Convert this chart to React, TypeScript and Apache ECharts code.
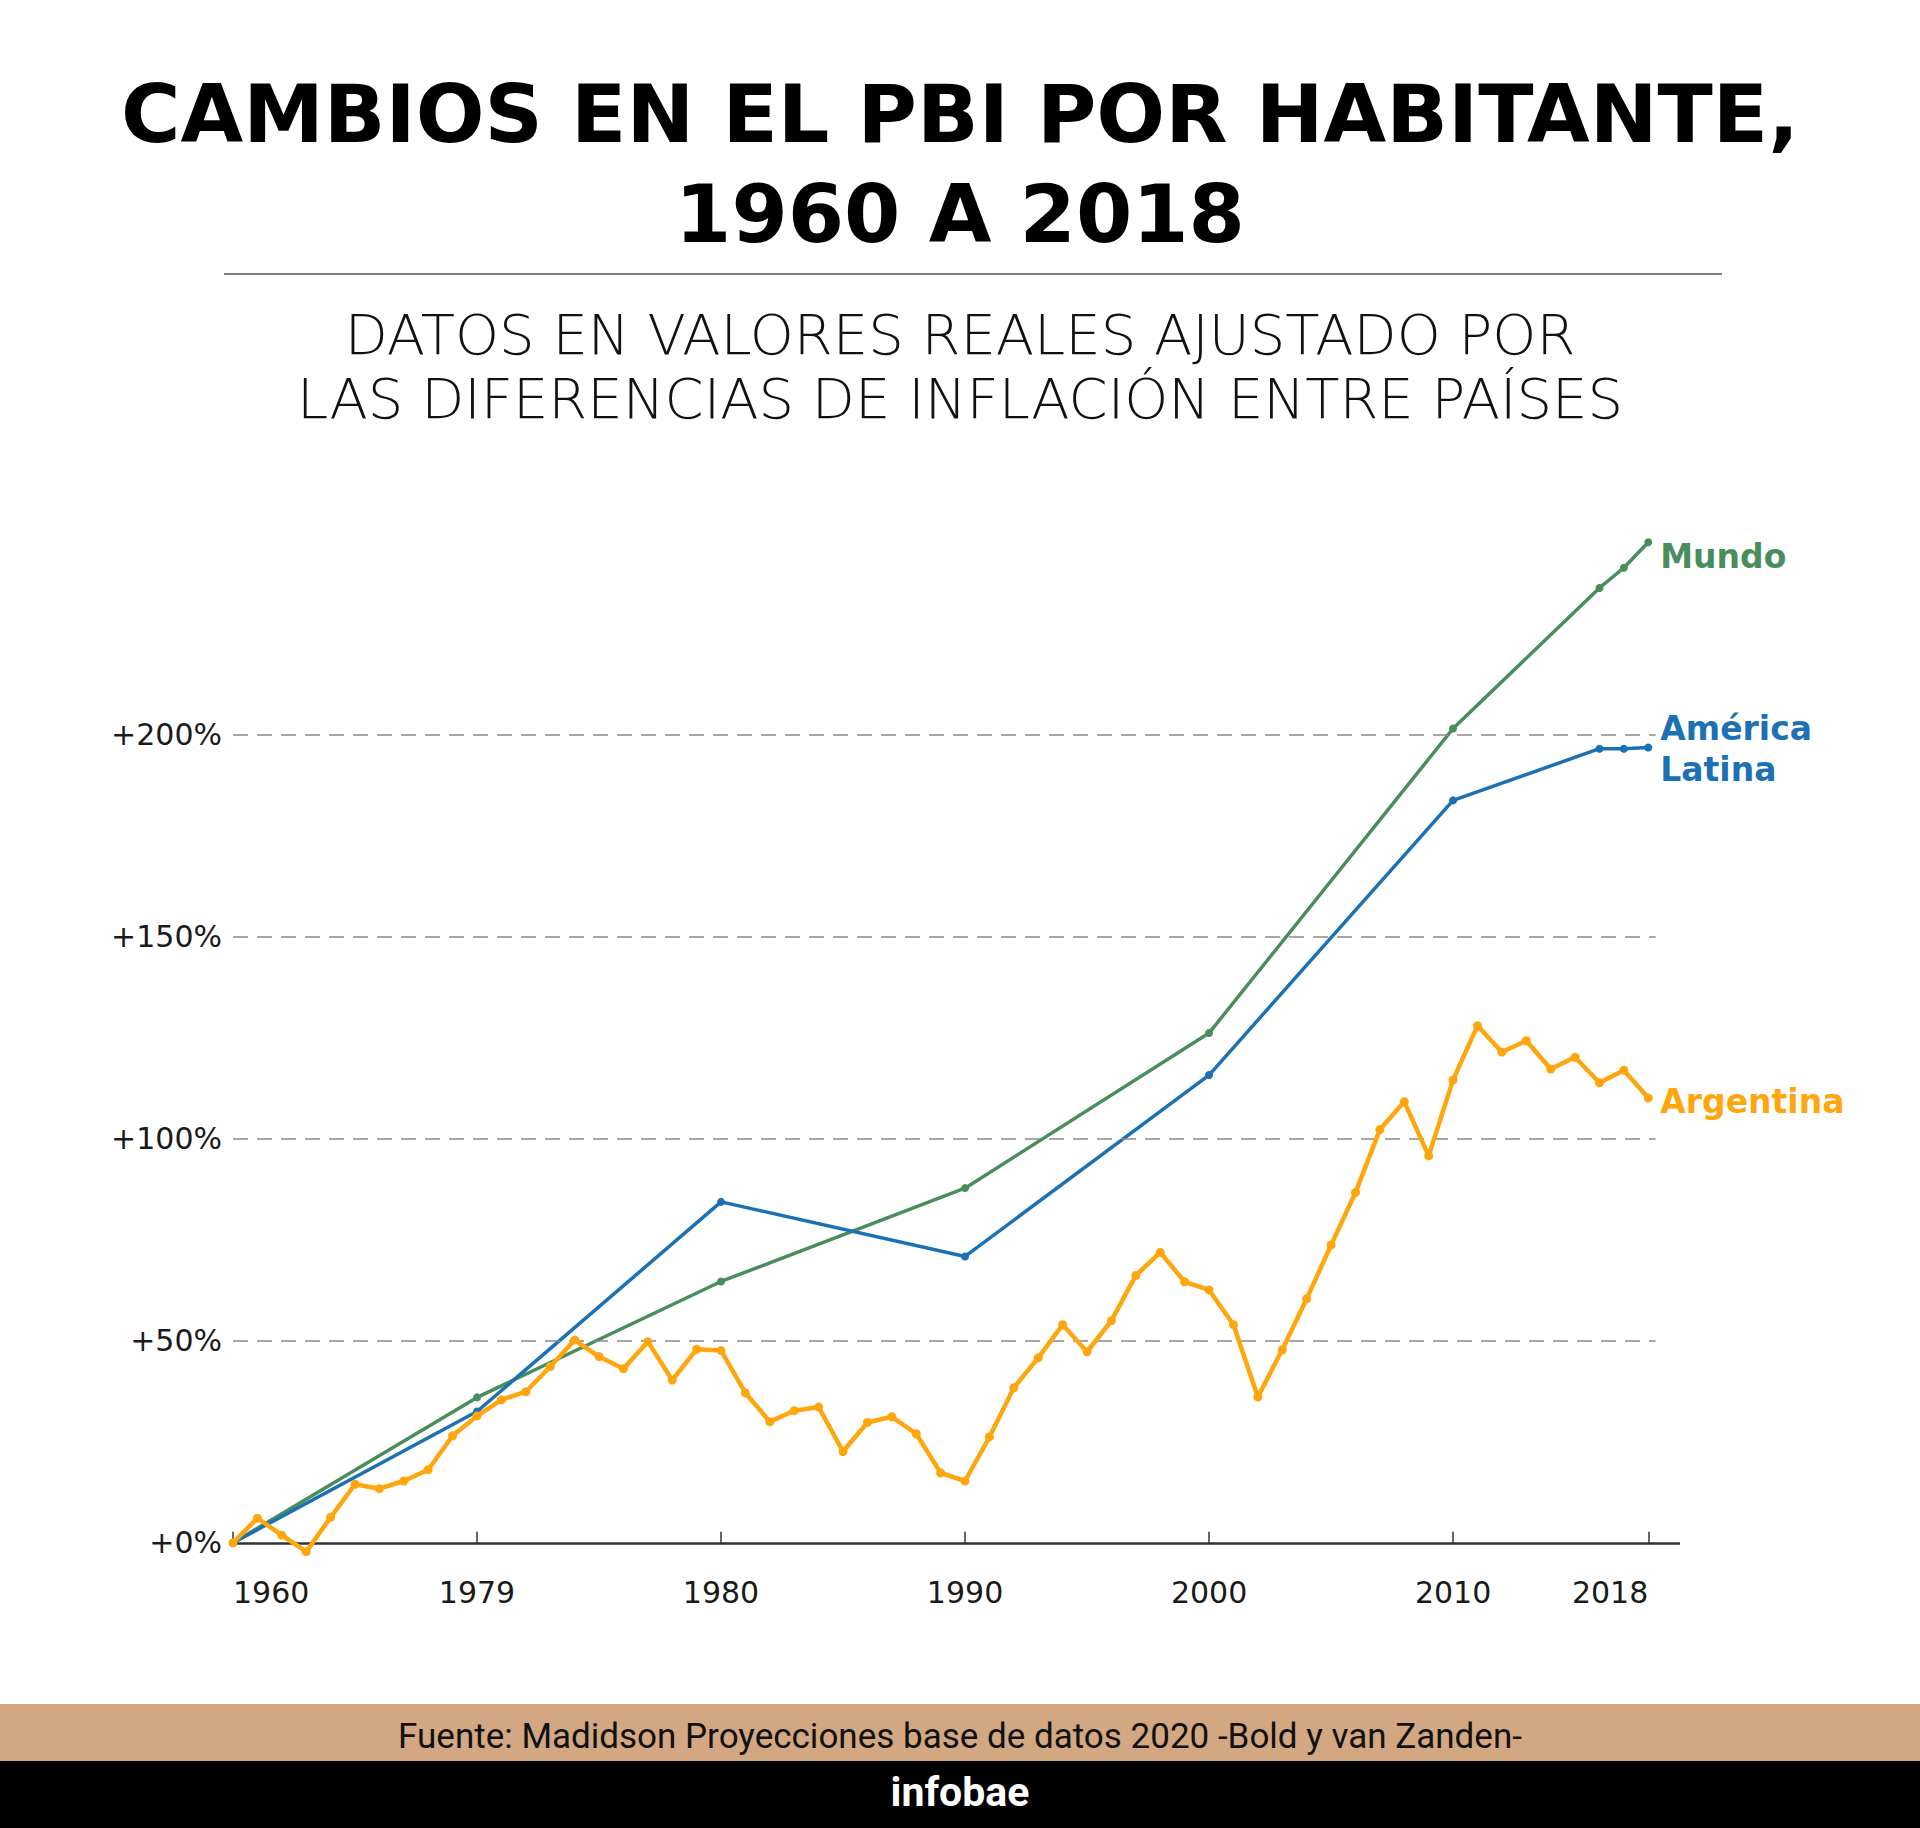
import React, { useEffect, useRef } from "react";
import * as echarts from "echarts";

// ---- Data ----
const regionYears = [1960, 1970, 1980, 1990, 2000, 2010, 2016, 2017, 2018];
const mundoValues = [0, 36.0, 64.7, 87.8, 126.2, 201.6, 236.4, 241.4, 247.7];
const latamValues = [0, 32.5, 84.4, 70.9, 115.8, 183.8, 196.6, 196.6, 196.9];

const argentinaStartYear = 1960;
const argentinaValues = [
  0, 6.1, 1.9, -2.2, 6.3, 14.5, 13.4, 15.3, 18.1, 26.5,
  31.4, 35.4, 37.4, 43.6, 50.2, 46.1, 43.1, 49.8, 40.3, 47.9,
  47.6, 37.1, 30.0, 32.7, 33.6, 22.6, 29.8, 31.2, 27.0, 17.3,
  15.3, 26.2, 38.4, 45.8, 54.0, 47.3, 55.0, 66.2, 71.9, 64.6,
  62.6, 54.0, 36.1, 47.8, 60.4, 73.7, 86.7, 102.3, 109.2, 95.8,
  114.6, 128.0, 121.5, 124.3, 117.3, 120.2, 113.9, 117.0, 110.1,
];

const xTickYears = [1960, 1970, 1980, 1990, 2000, 2010, 2018];
const xTickLabels = ["1960", "1979", "1980", "1990", "2000", "2010", "2018"];
const yTickValues = [0, 50, 100, 150, 200];
const gridLevels = [50, 100, 150, 200];

const seriesNames = ["Mundo", "América Latina", "Argentina"];
const seriesLabels = ["Mundo", "América\nLatina", "Argentina"];

const GREEN = "#4a8d5c";
const BLUE = "#1b71b3";
const ORANGE = "#ffa60d";

export default function App() {
  const ref = useRef<HTMLDivElement>(null);

  useEffect(() => {
    document.body.style.margin = "0";
    const chart = echarts.init(ref.current!, null, { renderer: "svg" });

    const pair = (xs: number[], ys: number[]) => xs.map((x, i) => [x, ys[i]]);
    const argData = argentinaValues.map((v, i) => [argentinaStartYear + i, v]);

    const markLines: any[] = gridLevels.map((g) => [
      { coord: [1960, g], lineStyle: { color: "#8a8a8a", width: 1.5, type: [15, 9] } },
      { coord: [2018.3, g] },
    ]);
    markLines.push([
      { coord: [1960, 0], lineStyle: { color: "#333333", width: 2.5, type: "solid" } },
      { coord: [2019.3, 0] },
    ]);

    const labelFont = "'DejaVu Sans', sans-serif";

    const option: any = {
      animation: false,
      backgroundColor: "#ffffff",
      grid: { left: 233, right: 240, top: 533, bottom: 265, containLabel: false },
      xAxis: {
        type: "value",
        min: 1960,
        max: 2019.3,
        axisLine: { show: false },
        splitLine: { show: false },
        axisTick: {
          show: true,
          inside: true,
          length: 11,
          customValues: xTickYears,
          lineStyle: { color: "#333333", width: 1.5 },
        },
        axisLabel: {
          customValues: xTickYears,
          formatter: (v: number) => {
            const i = xTickYears.indexOf(Math.round(v));
            return i >= 0 ? xTickLabels[i] : "";
          },
          margin: 14,
          color: "#1a1a1a",
          fontSize: 30,
          fontFamily: labelFont,
          alignMinLabel: "left",
          alignMaxLabel: "right",
        },
      },
      yAxis: {
        type: "value",
        min: -5,
        max: 250,
        axisLine: { show: false },
        axisTick: { show: false },
        splitLine: { show: false },
        axisLabel: {
          customValues: yTickValues,
          formatter: (v: number) => "+" + v + "%",
          margin: 11,
          color: "#1a1a1a",
          fontSize: 30,
          fontFamily: labelFont,
        },
      },
      graphic: [
        {
          type: "text",
          x: 960,
          y: 114,
          style: {
            text: "CAMBIOS EN EL PBI POR HABITANTE,",
            fontSize: 81,
            fontWeight: "bold",
            fontFamily: labelFont,
            fill: "#000000",
            align: "center",
            verticalAlign: "middle",
          },
        },
        {
          type: "text",
          x: 960,
          y: 214,
          style: {
            text: "1960 A 2018",
            fontSize: 81,
            fontWeight: "bold",
            fontFamily: labelFont,
            fill: "#000000",
            align: "center",
            verticalAlign: "middle",
          },
        },
        {
          type: "line",
          shape: { x1: 224, y1: 274, x2: 1722, y2: 274 },
          style: { stroke: "#555555", lineWidth: 1.5 },
        },
        {
          type: "text",
          x: 960,
          y: 334,
          style: {
            text: "DATOS EN VALORES REALES AJUSTADO POR",
            fontSize: 56,
            fontWeight: 200,
            fontFamily: labelFont,
            fill: "#111111",
            align: "center",
            verticalAlign: "middle",
          },
        },
        {
          type: "text",
          x: 960,
          y: 398,
          style: {
            text: "LAS DIFERENCIAS DE INFLACIÓN ENTRE PAÍSES",
            fontSize: 56,
            fontWeight: 200,
            fontFamily: labelFont,
            fill: "#111111",
            align: "center",
            verticalAlign: "middle",
          },
        },
        {
          type: "rect",
          shape: { x: 0, y: 1704, width: 1920, height: 57 },
          style: { fill: "#d3a781" },
        },
        {
          type: "rect",
          shape: { x: 0, y: 1761, width: 1920, height: 67 },
          style: { fill: "#000000" },
        },
        {
          type: "text",
          x: 960,
          y: 1736,
          style: {
            text: "Fuente: Madidson Proyecciones base de datos 2020 -Bold y van Zanden-",
            fontSize: 35,
            fontFamily: "Roboto, sans-serif",
            fill: "#111111",
            align: "center",
            verticalAlign: "middle",
          },
        },
        {
          type: "text",
          x: 960,
          y: 1792,
          style: {
            text: "infobae",
            fontSize: 41,
            fontWeight: "bold",
            fontFamily: "Roboto, sans-serif",
            fill: "#ffffff",
            align: "center",
            verticalAlign: "middle",
          },
        },
      ],
      series: [
        {
          type: "line",
          name: "grid",
          data: [],
          silent: true,
          z: 1,
          markLine: {
            silent: true,
            symbol: ["none", "none"],
            label: { show: false },
            data: markLines,
          },
        },
        {
          type: "line",
          name: seriesNames[0],
          data: pair(regionYears, mundoValues),
          z: 3,
          symbol: "circle",
          symbolSize: 8,
          showSymbol: true,
          lineStyle: { color: GREEN, width: 3.5 },
          itemStyle: { color: GREEN },
          endLabel: {
            show: true,
            formatter: () => seriesLabels[0],
            color: GREEN,
            fontSize: 33,
            fontWeight: "bold",
            fontFamily: labelFont,
            distance: 12,
            offset: [0, 14],
          },
        },
        {
          type: "line",
          name: seriesNames[1],
          data: pair(regionYears, latamValues),
          z: 4,
          symbol: "circle",
          symbolSize: 8,
          showSymbol: true,
          lineStyle: { color: BLUE, width: 3.5 },
          itemStyle: { color: BLUE },
          endLabel: {
            show: true,
            formatter: () => seriesLabels[1],
            color: BLUE,
            fontSize: 33,
            fontWeight: "bold",
            fontFamily: labelFont,
            lineHeight: 41,
            distance: 12,
            offset: [0, 2],
          },
        },
        {
          type: "line",
          name: seriesNames[2],
          data: argData,
          z: 5,
          symbol: "circle",
          symbolSize: 9,
          showSymbol: true,
          lineStyle: { color: ORANGE, width: 4.5 },
          itemStyle: { color: ORANGE },
          endLabel: {
            show: true,
            formatter: () => seriesLabels[2],
            color: ORANGE,
            fontSize: 33,
            fontWeight: "bold",
            fontFamily: labelFont,
            distance: 12,
            offset: [0, 3],
          },
        },
      ],
    };

    chart.setOption(option);
    return () => chart.dispose();
  }, []);

  return <div ref={ref} style={{ width: 1920, height: 1828 }} />;
}
